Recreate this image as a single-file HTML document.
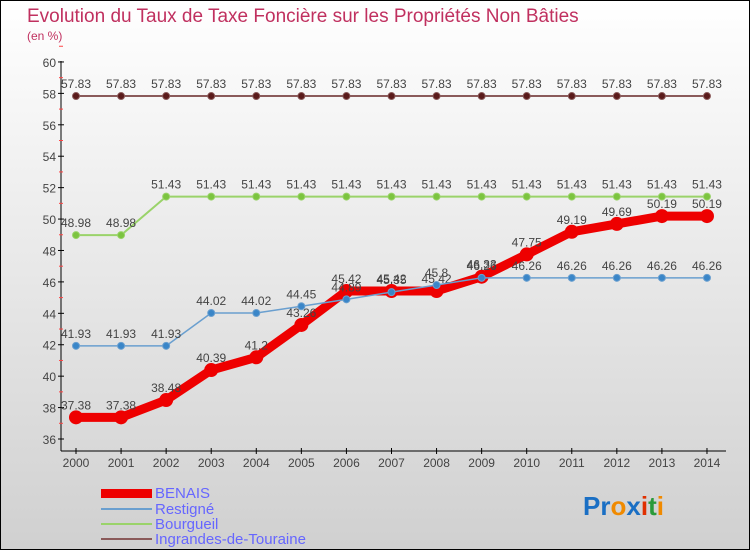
<!DOCTYPE html>
<html><head><meta charset="utf-8"><style>
body{margin:0}
#c{width:748px;height:548px;border:1px solid #000;background:linear-gradient(#fff,#d0d0d0);position:relative;overflow:hidden;font-family:"Liberation Sans",sans-serif}
</style></head><body>
<div id="c">
<svg id="s" width="748" height="548" xmlns="http://www.w3.org/2000/svg">
<text x="26" y="21" font-size="19" fill="#c0305f">Evolution du Taux de Taxe Foncière sur les Propriétés Non Bâties</text>
<text x="26" y="39" font-size="12" fill="#c0305f">(en %)</text>
<g id="ax"></g><g id="ser"></g>
<g>
<rect x="100" y="488" width="51" height="9" fill="#e00"/>
<text x="154" y="497" font-size="15" fill="#66f">BENAIS</text>
<rect x="100" y="507" width="51" height="2" fill="#6a9fcf"/>
<text x="154" y="513" font-size="15" fill="#66f">Restigné</text>
<rect x="100" y="522" width="51" height="2" fill="#9ad36a"/>
<text x="154" y="528" font-size="15" fill="#66f">Bourgueil</text>
<rect x="100" y="537" width="51" height="2" fill="#8a5a5a"/>
<text x="154" y="543" font-size="15" fill="#66f">Ingrandes-de-Touraine</text>
</g>
<text x="582" y="514" font-size="26" font-weight="bold"><tspan fill="#1a6fc4">Pr</tspan><tspan fill="#f08a00">o</tspan><tspan fill="#1a6fc4">x</tspan><tspan fill="#e03000">i</tspan><tspan fill="#2a9a3a">t</tspan><tspan fill="#f08a00">i</tspan></text>
</svg></div>
<script>
const years=[2000,2001,2002,2003,2004,2005,2006,2007,2008,2009,2010,2011,2012,2013,2014];
const benais=[37.38,37.38,38.48,40.39,41.2,43.26,45.42,45.42,45.42,46.33,47.75,49.19,49.69,50.19,50.19];
const restigne=[41.93,41.93,41.93,44.02,44.02,44.45,44.89,45.35,45.8,46.26,46.26,46.26,46.26,46.26,46.26];
const bourgueil=[48.98,48.98,51.43,51.43,51.43,51.43,51.43,51.43,51.43,51.43,51.43,51.43,51.43,51.43,51.43];
const ingrandes=[57.83,57.83,57.83,57.83,57.83,57.83,57.83,57.83,57.83,57.83,57.83,57.83,57.83,57.83,57.83];
const yTicks=[36,38,40,42,44,46,48,50,52,54,56,58,60];
const NS="http://www.w3.org/2000/svg";
const x=i=>75+i*45.07, y=v=>438-(v-36)*15.71;
function mk(p,t,a){const e=document.createElementNS(NS,t);for(const k in a)e.setAttribute(k,a[k]);p.appendChild(e);return e;}
const ax=document.getElementById('ax'),ser=document.getElementById('ser');
let e=mk(ax,'line',{x1:60,y1:60,x2:60,y2:450,stroke:'#000'});


e=mk(ax,'line',{x1:60,y1:450,x2:725,y2:450,stroke:'#000'});


yTicks.forEach(v=>{
 mk(ax,'line',{x1:57,x2:63,y1:y(v),y2:y(v),stroke:'#000'});
 mk(ax,'line',{x1:58,x2:62,y1:y(v+1),y2:y(v+1),stroke:'#f44'});
 const t=mk(ax,'text',{x:55,y:y(v)+5,'font-size':12,'text-anchor':'end',fill:'#444'});t.textContent=v;
 
 
});
years.forEach((yr,i)=>{
 mk(ax,'line',{x1:x(i),x2:x(i),y1:447,y2:453,stroke:'#000'});
 const t=mk(ax,'text',{x:x(i),y:466,'font-size':12,'text-anchor':'middle',fill:'#444'});t.textContent=yr;
 
 
});
function series(name,vals,col,w,r,dot){
 const g=mk(ser,'g',{});
 
 
 mk(g,'polyline',{points:vals.map((v,i)=>x(i)+','+y(v)).join(' '),fill:'none',stroke:col,'stroke-width':w,'stroke-linejoin':'round'});
 vals.forEach((v,i)=>{
  const c=mk(g,'circle',{cx:x(i),cy:y(v),r:r,fill:dot,stroke:col,'stroke-width':1});
  
  
  const t=mk(g,'text',{x:x(i),y:y(v)-8,'font-size':12,'text-anchor':'middle',fill:'#444'});t.textContent=v;
  
  
 });
}
series('ingrandes',ingrandes,'#8a5a5a',2,3.5,'#5a1a1a');
series('bourgueil',bourgueil,'#9ad36a',2,3.5,'#7cc440');
series('benais',benais,'#e00',9,6.5,'#e00');
series('restigne',restigne,'#6a9fcf',1.5,3.5,'#3a86c8');
</script></body></html>
